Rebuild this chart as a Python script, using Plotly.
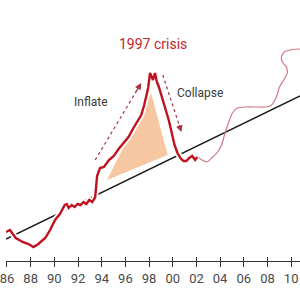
import plotly.graph_objects as go

# Red (actual) series, 1986-2002
red_years = [1985.92, 1986.25, 1986.74, 1987.32, 1987.82, 1988.23, 1988.65, 1989.23, 1989.64,
             1990.06, 1990.47, 1990.88, 1991.05, 1991.21, 1991.46, 1991.71, 1991.96, 1992.21,
             1992.46, 1992.70, 1992.95, 1993.20, 1993.45, 1993.53, 1993.61, 1993.86, 1994.19,
             1994.61, 1995.02, 1995.43, 1995.85, 1996.26, 1996.68, 1997.09, 1997.34, 1997.59,
             1997.75, 1997.92, 1998.08, 1998.25, 1998.33, 1998.50, 1998.66, 1998.83, 1998.99,
             1999.24, 1999.49, 1999.66, 1999.82, 1999.99, 2000.15, 2000.40, 2000.65, 2000.90,
             2001.15, 2001.39, 2001.64, 2001.89, 2002.06]
red_vals = [29, 31, 23, 19, 17, 14, 17, 23, 31,
            41, 47, 56, 57, 53, 56, 54, 57, 56,
            59, 57, 61, 59, 64, 76, 85, 93, 94,
            101, 105, 112, 118, 124, 133, 141, 146, 156,
            164, 173, 188, 183, 181, 188, 179, 174, 168,
            159, 149, 141, 133, 123, 116, 108, 103, 100,
            100, 103, 105, 101, 104]

# Thin projected series, 2002-2010
proj_years = [2002.06, 2002.47, 2002.88, 2003.30, 2003.79, 2004.12, 2004.37, 2004.70, 2005.04,
              2005.45, 2006.19, 2007.02, 2007.85, 2008.26, 2008.59, 2008.84, 2009.01, 2009.42,
              2009.67, 2009.59, 2009.26, 2009.17, 2009.42, 2009.92, 2010.75]
proj_vals = [104, 101, 99, 103, 109, 116, 126, 138, 148,
             153, 154, 154, 154, 155, 160, 167, 174, 182,
             188, 194, 199, 204, 209, 211, 212]

# Trend line
trend_years = [1985.92, 2010.75]
trend_vals = [22, 165]

# Bubble triangle
tri_years = [1994.44, 1998.17, 1999.57, 1994.44]
tri_vals = [81, 168, 106, 81]

# Arrows
inflate_years = [1993.45, 1997.34]
inflate_vals = [101, 178]
collapse_years = [1999.16, 2000.73]
collapse_vals = [186, 129]

tick_vals = [1986, 1988, 1990, 1992, 1994, 1996, 1998, 2000, 2002, 2004, 2006, 2008, 2010]
tick_text = ["86", "88", "90", "92", "94", "96", "98", "00", "02", "04", "06", "08", "10"]

XR = [1985.917, 2010.746]
YR = [0, 261]
FONT = "Roboto, sans-serif"
ARROW_C = "#a8323e"

fig = go.Figure()

fig.add_trace(go.Scatter(x=tri_years, y=tri_vals, fill="toself", mode="lines",
                         line=dict(width=0), fillcolor="#f6c7a0", hoverinfo="skip"))
fig.add_trace(go.Scatter(x=trend_years, y=trend_vals, mode="lines",
                         line=dict(color="#1a1a1a", width=1.5)))
fig.add_trace(go.Scatter(x=proj_years, y=proj_vals, mode="lines",
                         line=dict(color="#d47884", width=1.2, shape="spline", smoothing=0.5)))
fig.add_trace(go.Scatter(x=red_years, y=red_vals, mode="lines",
                         line=dict(color="white", width=6)))
fig.add_trace(go.Scatter(x=red_years, y=red_vals, mode="lines",
                         line=dict(color="#c0121e", width=2.4)))

for xs, ys in [(inflate_years, inflate_vals), (collapse_years, collapse_vals)]:
    fig.add_trace(go.Scatter(x=xs, y=ys, mode="lines",
                             line=dict(color=ARROW_C, width=1.2, dash="dot")))
    # arrowhead at the end point, pointing along the segment
    bx = xs[0] + 0.85 * (xs[1] - xs[0])
    by = ys[0] + 0.85 * (ys[1] - ys[0])
    fig.add_annotation(x=xs[1], y=ys[1], ax=bx, ay=by, xref="x", yref="y",
                       axref="x", ayref="y", text="", showarrow=True,
                       arrowhead=2, arrowsize=1.1, arrowwidth=1.2, arrowcolor=ARROW_C,
                       standoff=0, startstandoff=0)

fig.add_annotation(x=1998.33, y=217, text="1997 crisis", showarrow=False,
                   font=dict(family=FONT, size=14, color="#c0262d"))
fig.add_annotation(x=1993.12, y=159, text="Inflate", showarrow=False,
                   font=dict(family=FONT, size=12, color="#3a3a3a"))
fig.add_annotation(x=2002.30, y=168, text="Collapse", showarrow=False,
                   font=dict(family=FONT, size=12, color="#3a3a3a"))

fig.update_layout(
    width=300, height=300,
    margin=dict(l=0, r=0, t=0, b=39),
    paper_bgcolor="white", plot_bgcolor="white",
    showlegend=False,
    xaxis=dict(range=XR, showgrid=False, zeroline=False, showline=True,
               linecolor="#333", linewidth=1, ticks="outside", ticklen=5,
               tickcolor="#333", tickwidth=1, tickvals=tick_vals, ticktext=tick_text,
               ticklabeloverflow="allow",
               tickfont=dict(family=FONT, size=13, color="#4a4a4a")),
    xaxis2=dict(range=XR, overlaying="x", anchor="y", side="bottom", showgrid=False,
                zeroline=False, showline=False, ticks="inside", ticklen=4, tickcolor="#333",
                tickwidth=1, tickvals=tick_vals, showticklabels=False),
    yaxis=dict(range=YR, visible=False),
)
fig.add_trace(go.Scatter(x=[XR[0]], y=[-10], xaxis="x2", mode="markers",
                         marker=dict(size=0, opacity=0), hoverinfo="skip"))

fig.write_html("out.html")
